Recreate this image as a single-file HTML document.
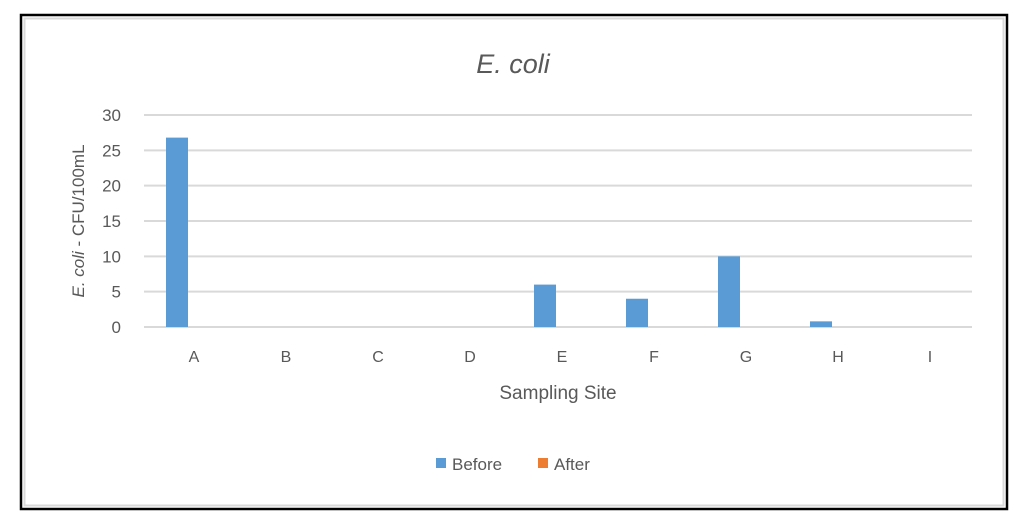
<!DOCTYPE html>
<html><head><meta charset="utf-8"><style>
body{margin:0;background:#fff;font-family:"Liberation Sans",sans-serif;}
svg{display:block}
text{font-family:"Liberation Sans",sans-serif;fill:#595959}
</style></head><body>
<svg width="1028" height="527">
<rect x="21" y="15" width="986" height="494" fill="#fff" stroke="#000" stroke-width="2.5"/>
<rect x="24.5" y="18.5" width="979" height="487" fill="none" stroke="#d9d9d9" stroke-width="2"/>
<text x="513" y="73" font-size="27" font-style="italic" text-anchor="middle">E. coli</text>
<g id="grid"></g><g id="bars"></g><g id="labels"></g>
<text transform="translate(84,221) rotate(-90)" font-size="17" text-anchor="middle"><tspan font-style="italic">E. coli</tspan> - CFU/100mL</text>
<text x="558" y="399" font-size="19" text-anchor="middle">Sampling Site</text>
<g>
<rect x="436" y="458" width="10" height="10" fill="#5b9bd5"/>
<text x="452" y="470" font-size="17">Before</text>
<rect x="538" y="458" width="10" height="10" fill="#ed7d31"/>
<text x="554" y="470" font-size="17">After</text>
</g>
</svg>
<script>
const categories=["A","B","C","D","E","F","G","H","I"];
const before=[26.8,0,0,0,6,4,10,0.8,0];
const after=[0,0,0,0,0,0,0,0,0];
const yTicks=[0,5,10,15,20,25,30];
const L=144,R=972,T=115,B=327,YMAX=30;
const y=v=>B-(v/YMAX)*(B-T);
const band=(R-L)/categories.length;
const cx=i=>L+band*(i+0.5);
const NS="http://www.w3.org/2000/svg";
function mk(t,a,p){const e=document.createElementNS(NS,t);for(const k in a)e.setAttribute(k,a[k]);p.appendChild(e);return e;}
const g=document.getElementById('grid'),bg=document.getElementById('bars'),lg=document.getElementById('labels');
yTicks.forEach(v=>{
 const l=mk('line',{x1:L,x2:R,y1:y(v),y2:y(v),stroke:'#d9d9d9','stroke-width':2},g);
 
 
 const t=mk('text',{x:121,y:y(v)+6,'font-size':17,'text-anchor':'end'},lg);t.textContent=v;
 
 
});
categories.forEach((c,i)=>{
 const bw=22;
 const b1=mk('rect',{x:cx(i)-bw-2,y:y(before[i]),width:bw,height:B-y(before[i]),fill:'#5b9bd5'},bg);
 
 
 const b2=mk('rect',{x:cx(i)+2,y:y(after[i]),width:bw,height:B-y(after[i]),fill:'#ed7d31'},bg);
 
 
 const t=mk('text',{x:cx(i)+4,y:362,'font-size':16,'text-anchor':'middle'},lg);t.textContent=c;
 
 
});
</script>
</body></html>
